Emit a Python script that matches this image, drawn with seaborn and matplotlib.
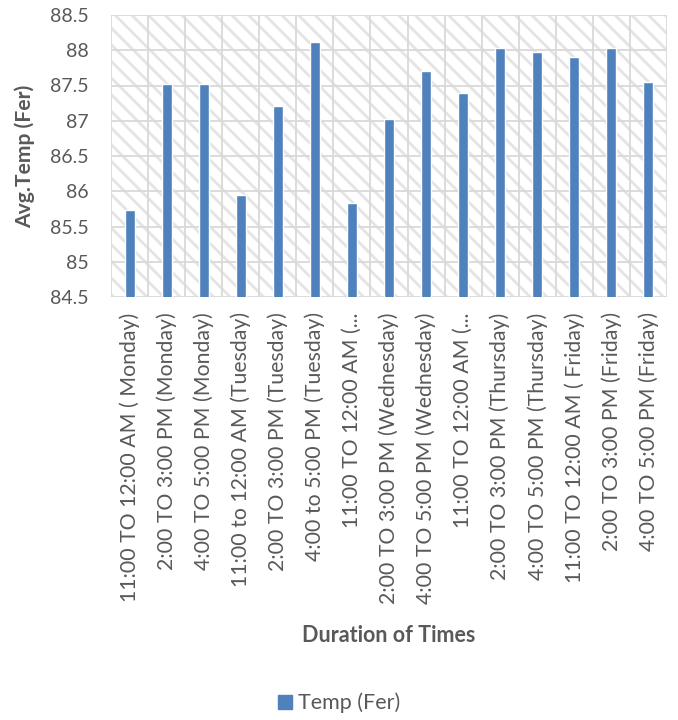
import matplotlib
matplotlib.use("Agg")
import matplotlib.pyplot as plt
import matplotlib.patches as mpatches
from matplotlib.ticker import FixedLocator
import seaborn as sns
import pandas as pd
import numpy as np

# Time slots across the week and the average temperature recorded in each
categories = [
    "11:00 TO 12:00 AM ( Monday)",
    "2:00 TO 3:00 PM (Monday)",
    "4:00 TO 5:00 PM (Monday)",
    "11:00 to 12:00 AM (Tuesday)",
    "2:00 TO 3:00 PM (Tuesday)",
    "4:00 to 5:00 PM (Tuesday)",
    "11:00 TO 12:00 AM (...",
    "2:00 TO 3:00 PM (Wednesday)",
    "4:00 TO 5:00 PM (Wednesday)",
    "11:00 TO 12:00 AM (...",
    "2:00 TO 3:00 PM (Thursday)",
    "4:00 TO 5:00 PM (Thursday)",
    "11:00 TO 12:00 AM ( Friday)",
    "2:00 TO 3:00 PM (Friday)",
    "4:00 TO 5:00 PM (Friday)",
]
temps = [85.74, 87.52, 87.52, 85.94, 87.21, 88.12, 85.84, 87.02,
         87.70, 87.39, 88.03, 87.97, 87.90, 88.03, 87.55]
series_name = "Temp (Fer)"
y_ticks = [84.5, 85, 85.5, 86, 86.5, 87, 87.5, 88, 88.5]

BAR = "#4f81bd"
GRID = "#d9d9d9"
TEXT = "#595959"
FONT = ["Lato", "DejaVu Sans"]

sns.set_theme(style="white")
plt.rcParams["font.family"] = FONT
plt.rcParams["hatch.linewidth"] = 2.0

df = pd.DataFrame({"slot": range(len(categories)), "temp": temps})

fig = plt.figure(figsize=(6.78, 7.2), dpi=100)
ax = fig.add_axes([111 / 678, 1 - 297 / 720, 556 / 678, 282 / 720])

# Diagonal pattern fill behind the plot area
ax.add_patch(mpatches.Rectangle((0, 0), 1, 1, transform=ax.transAxes,
                                facecolor="white", edgecolor="#e4e4e4",
                                hatch="\\\\", linewidth=0, zorder=0))

sns.barplot(data=df, x="slot", y="temp", color=BAR, width=0.27,
            saturation=1, ax=ax, zorder=3)

ax.set_ylim(84.5, 88.5)
ax.set_xlim(-0.5, len(categories) - 0.5)
ax.set_yticks(y_ticks)
ax.set_yticklabels([f"{v:g}" for v in y_ticks])
ax.set_xticks(range(len(categories)))
ax.set_xticklabels(categories, rotation=90)

# Gridlines: horizontal at each value tick, vertical between categories
ax.xaxis.set_minor_locator(FixedLocator(np.arange(-0.5, len(categories), 1.0)))
ax.grid(False)
ax.grid(axis="y", which="major", color=GRID, linewidth=1.3, zorder=1)
ax.grid(axis="x", which="minor", color=GRID, linewidth=1.3, zorder=1)
ax.set_axisbelow(True)
for s in ax.spines.values():
    s.set_visible(False)

ax.tick_params(axis="both", which="both", length=0)
ax.tick_params(axis="y", pad=16, labelsize=14, labelcolor=TEXT)
ax.tick_params(axis="x", pad=11, labelsize=15.3, labelcolor=TEXT)

ax.set_xlabel("Duration of Times", fontsize=15.5, fontweight="bold", color=TEXT)
ax.set_ylabel("Avg.Temp (Fer)", fontsize=15.2, fontweight="bold", color=TEXT)
ax.xaxis.set_label_coords(0.5, -1.162)
ax.yaxis.set_label_coords(-0.137, 0.5)

handle = mpatches.Patch(facecolor=BAR, edgecolor=BAR, label=series_name)
fig.legend(handles=[handle], loc="center", bbox_to_anchor=(0.5, 1 - 703 / 720),
           frameon=False, fontsize=15.5, labelcolor=TEXT, handlelength=0.65,
           handleheight=0.65, handletextpad=0.3)

fig.savefig("out.png", dpi=100, facecolor="white")
